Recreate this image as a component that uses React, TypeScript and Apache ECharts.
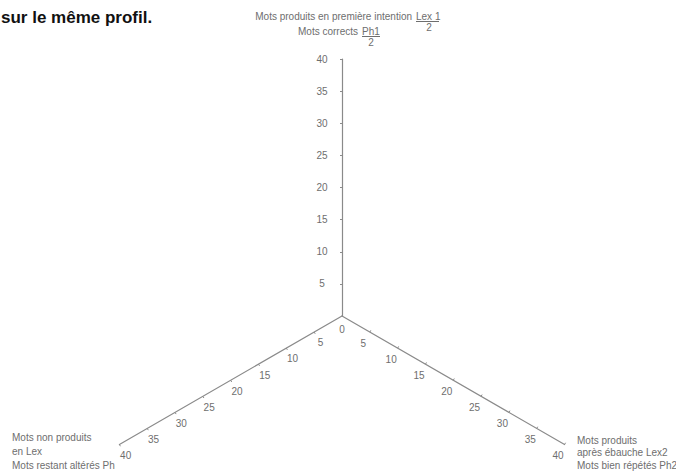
import React, { useEffect, useRef } from "react";
import * as echarts from "echarts";

// ---- data ----
const AXIS_NAMES = [
  "Mots produits en première intention Lex 1 / 2 — Mots corrects Ph1 / 2",
  "Mots non produits en Lex — Mots restant altérés Ph",
  "Mots produits après ébauche Lex2 — Mots bien répétés Ph2",
];
const AXIS_MIN = 0;
const AXIS_MAX = 40;
const AXIS_SPLITS = 8; // ticks every 5
const HEADING = "sur le même profil.";
const TOP_LINE1 = "Mots produits en première intention";
const TOP_LINE1_NUM = "Lex 1";
const TOP_LINE2 = "Mots corrects";
const TOP_LINE2_NUM = "Ph1";
const TOP_DEN = "2";
const LEFT_NAME = ["Mots non produits", "en Lex", "Mots restant altérés Ph"];
const RIGHT_NAME = ["Mots produits", "après ébauche Lex2", "Mots bien répétés Ph2"];
const ZERO_LABEL = "0";

const FONT = "'Liberation Sans', Arial, sans-serif";
const TEXT_COLOR = "#6e6e6e";
const LINE_COLOR = "#8a8a8a";

export default function App() {
  const ref = useRef<HTMLDivElement>(null);

  useEffect(() => {
    if (!ref.current) return;
    document.body.style.margin = "0";
    const chart = echarts.init(ref.current, undefined, { renderer: "svg" });

    const txt = (x: number, y: number, text: string, align: string = "left", extra: any = {}) => ({
      type: "text",
      x,
      y,
      silent: true,
      style: {
        text,
        fill: TEXT_COLOR,
        font: `10px ${FONT}`,
        align,
        verticalAlign: "middle",
        ...extra,
      },
    });
    const uline = (x1: number, x2: number, y: number) => ({
      type: "line",
      silent: true,
      shape: { x1, y1: y, x2, y2: y },
      style: { stroke: TEXT_COLOR, lineWidth: 1 },
    });

    const indicatorBase = { min: AXIS_MIN, max: AXIS_MAX };

    chart.setOption({
      animation: false,
      radar: {
        center: [342, 316],
        radius: 257,
        startAngle: 90,
        splitNumber: AXIS_SPLITS,
        shape: "polygon",
        axisName: { show: false },
        splitLine: { show: false },
        splitArea: { show: false },
        axisLine: { show: true, lineStyle: { color: LINE_COLOR, width: 1.2 } },
        axisTick: { show: true, length: 2, lineStyle: { color: LINE_COLOR, width: 1 } },
        axisLabel: {
          show: true,
          color: TEXT_COLOR,
          fontSize: 10,
          fontFamily: FONT,
          showMinLabel: false,
        },
        indicator: [
          { ...indicatorBase, name: AXIS_NAMES[0], axisLabel: { align: "center", verticalAlign: "middle", margin: 20 } },
          { ...indicatorBase, name: AXIS_NAMES[1], axisLabel: { align: "center", verticalAlign: "middle", margin: 12.5 } },
          { ...indicatorBase, name: AXIS_NAMES[2], axisLabel: { align: "center", verticalAlign: "middle", margin: -13 } },
        ],
      },
      series: [{ type: "radar", data: [] }],
      graphic: [
        {
          type: "text",
          x: 1,
          y: 17,
          silent: true,
          style: {
            text: HEADING,
            fill: "#111",
            font: `bold 17px ${FONT}`,
            align: "left",
            verticalAlign: "middle",
          },
        },
        txt(412, 16, TOP_LINE1, "right"),
        txt(416, 16, TOP_LINE1_NUM, "left"),
        uline(416, 439, 21.5),
        txt(429, 27, TOP_DEN, "center"),
        txt(358, 31, TOP_LINE2, "right"),
        txt(362, 31, TOP_LINE2_NUM, "left"),
        uline(362, 380, 36.5),
        txt(371, 42, TOP_DEN, "center"),
        txt(342, 329, ZERO_LABEL, "center"),
        txt(12, 451.5, LEFT_NAME.join("\n"), "left", { lineHeight: 14 }),
        txt(577, 452.5, RIGHT_NAME.join("\n"), "left", { lineHeight: 12.5 }),
      ],
    });

    return () => chart.dispose();
  }, []);

  return (
    <div
      ref={ref}
      style={{ position: "absolute", left: 0, top: 0, width: 676, height: 473, background: "#fff" }}
    />
  );
}
